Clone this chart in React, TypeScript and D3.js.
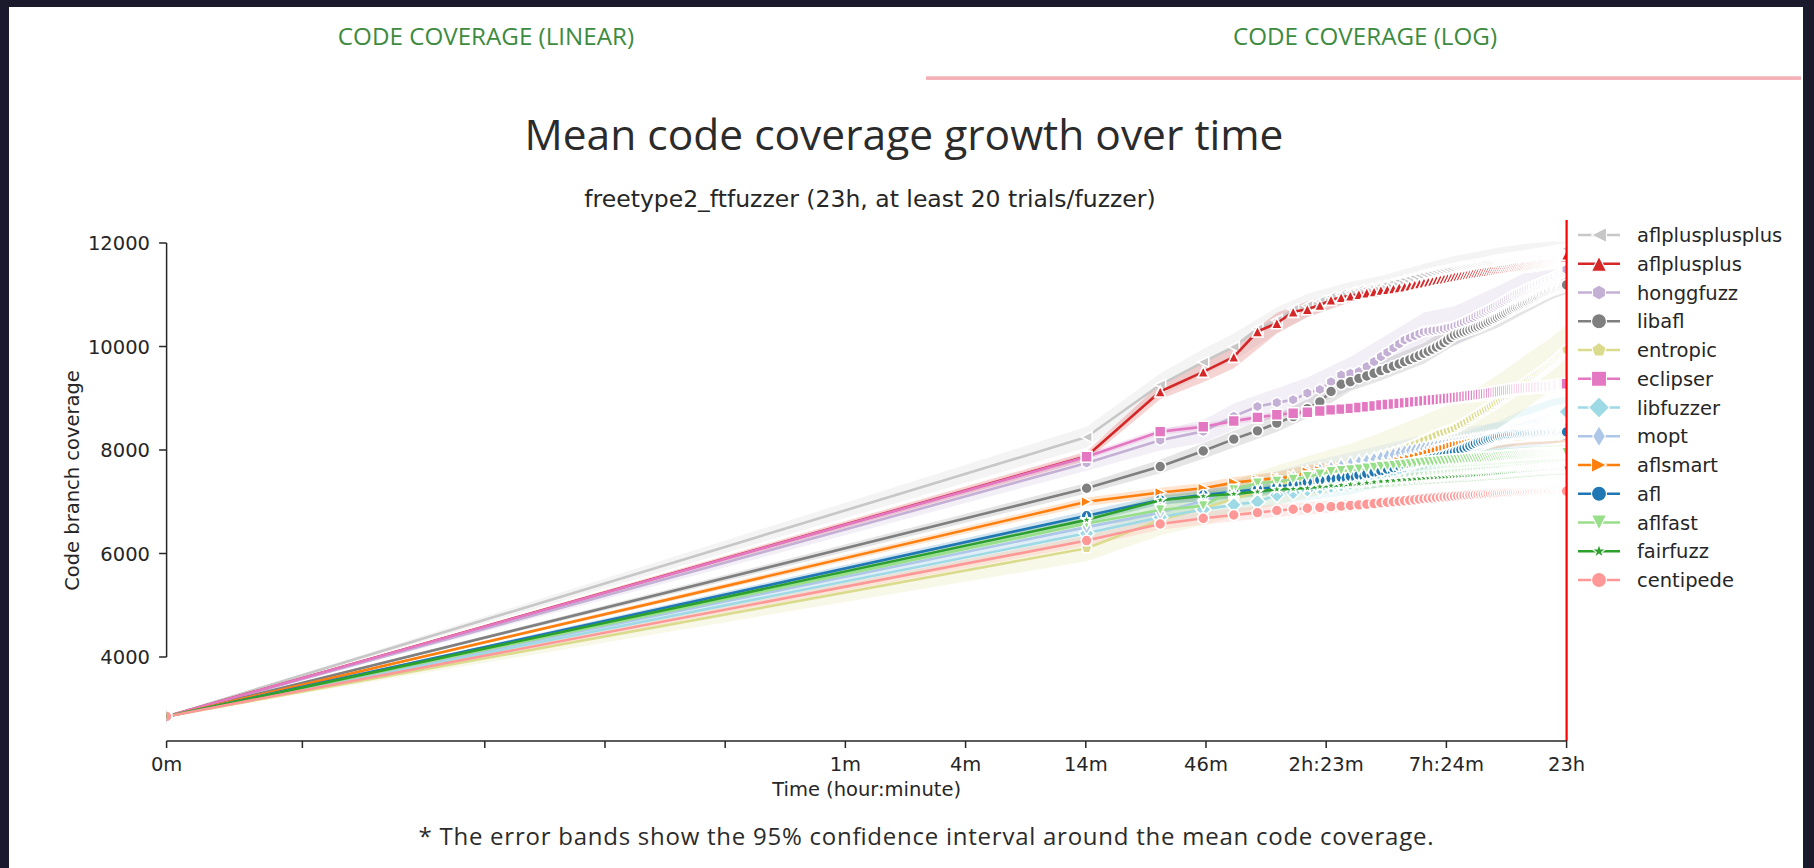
import React from 'react';
import * as d3 from 'd3';

const W = 1814;
const H = 868;

const FUZZERS = ['aflplusplusplus', 'aflplusplus', 'honggfuzz', 'libafl', 'entropic', 'eclipser', 'libfuzzer', 'mopt', 'aflsmart', 'afl', 'aflfast', 'fairfuzz', 'centipede'];
const COLORS = ['#c7c7c7', '#d62728', '#c5b0d5', '#7f7f7f', '#dbdb8d', '#e377c2', '#9edae5', '#aec7e8', '#ff7f0e', '#1f77b4', '#98df8a', '#2ca02c', '#ff9896'];
const MARKERS = ['<', '^', 'h', 'o', 'p', 's', 'D', 'd', '>', 'o', 'v', '*', 'o'];

const START_COVERAGE = 2850;
const SNAPSHOT_SECONDS = 900;
const END_SECONDS = 82800;

// mean coverage at each 15-minute snapshot (900s .. 82800s)
const aflplusplusplusCov = [8250, 9260, 9700, 9990, 10340, 10510, 10720, 10790, 10880, 10960, 11010, 11050, 11090, 11120, 11150, 11180,
  11210, 11240, 11270, 11300, 11325, 11350, 11375, 11400, 11420, 11440, 11455, 11470, 11485, 11500, 11515, 11530,
  11540, 11550, 11560, 11570, 11580, 11590, 11600, 11610, 11620, 11630, 11640, 11650, 11660, 11670, 11675, 11680,
  11690, 11695, 11700, 11710, 11715, 11720, 11725, 11730, 11735, 11740, 11745, 11750, 11755, 11760, 11765, 11770,
  11775, 11780, 11785, 11790, 11795, 11800, 11805, 11810, 11815, 11820, 11825, 11830, 11835, 11840, 11845, 11850,
  11855, 11860, 11862, 11865, 11868, 11870, 11872, 11875, 11878, 11880, 11885, 11890];
const aflplusplusCov = [7880, 9130, 9510, 9800, 10290, 10450, 10670, 10720, 10800, 10900, 10950, 10980, 11010, 11040, 11060, 11090,
  11105, 11120, 11140, 11156, 11175, 11195, 11215, 11233, 11250, 11265, 11282, 11298, 11310, 11323, 11336, 11349,
  11360, 11370, 11380, 11390, 11400, 11408, 11417, 11426, 11433, 11440, 11447, 11454, 11460, 11466, 11472, 11478,
  11485, 11491, 11497, 11503, 11510, 11517, 11523, 11530, 11533, 11537, 11540, 11543, 11546, 11549, 11552, 11556,
  11561, 11566, 11570, 11575, 11580, 11584, 11589, 11594, 11597, 11600, 11603, 11606, 11610, 11613, 11616, 11620,
  11625, 11630, 11635, 11642, 11650, 11658, 11666, 11675, 11690, 11710, 11735, 11770];
const honggfuzzCov = [7750, 8190, 8360, 8650, 8840, 8915, 8970, 9100, 9170, 9320, 9450, 9482, 9514, 9611, 9707, 9804,
  9890, 9970, 10050, 10126, 10170, 10210, 10250, 10286, 10300, 10312, 10322, 10333, 10348, 10364, 10380, 10396,
  10420, 10446, 10472, 10500, 10527, 10554, 10582, 10609, 10633, 10657, 10681, 10705, 10730, 10754, 10778, 10802,
  10826, 10850, 10874, 10898, 10922, 10946, 10970, 10995, 11010, 11026, 11042, 11058, 11075, 11091, 11108, 11124,
  11138, 11151, 11165, 11178, 11192, 11205, 11219, 11233, 11244, 11254, 11265, 11276, 11286, 11297, 11307, 11318,
  11330, 11343, 11356, 11370, 11383, 11396, 11410, 11424, 11438, 11452, 11470, 11490];
const libaflCov = [7260, 7680, 7980, 8210, 8370, 8520, 8645, 8800, 8930, 9130, 9270, 9320, 9385, 9430, 9482, 9533,
  9576, 9620, 9663, 9707, 9747, 9788, 9828, 9869, 9909, 9950, 9990, 10030, 10078, 10126, 10175, 10223,
  10243, 10263, 10283, 10303, 10323, 10343, 10363, 10383, 10405, 10428, 10451, 10474, 10496, 10519, 10542, 10564,
  10586, 10608, 10630, 10651, 10673, 10695, 10716, 10738, 10754, 10770, 10786, 10802, 10818, 10834, 10850, 10866,
  10882, 10898, 10914, 10930, 10946, 10962, 10978, 10995, 11007, 11019, 11031, 11043, 11056, 11068, 11080, 11092,
  11100, 11108, 11116, 11124, 11132, 11140, 11148, 11156, 11164, 11172, 11180, 11190];
const entropicCov = [6100, 6650, 6870, 7060, 7190, 7320, 7390, 7480, 7560, 7610, 7650, 7690, 7740, 7790, 7840, 7890,
  7925, 7960, 7995, 8030, 8070, 8110, 8150, 8190, 8225, 8260, 8295, 8330, 8352, 8375, 8397, 8420,
  8455, 8490, 8525, 8560, 8595, 8630, 8665, 8700, 8729, 8758, 8786, 8815, 8844, 8872, 8901, 8930,
  8957, 8985, 9012, 9040, 9067, 9095, 9122, 9150, 9175, 9200, 9225, 9250, 9275, 9300, 9325, 9350,
  9371, 9392, 9414, 9435, 9456, 9477, 9499, 9520, 9540, 9560, 9580, 9600, 9620, 9640, 9660, 9680,
  9702, 9724, 9746, 9768, 9790, 9812, 9834, 9856, 9878, 9900, 9920, 9940];
const eclipserCov = [7870, 8355, 8450, 8560, 8630, 8680, 8710, 8730, 8755, 8775, 8790, 8805, 8820, 8835, 8850, 8870,
  8880, 8890, 8900, 8910, 8920, 8930, 8940, 8950, 8958, 8965, 8972, 8980, 8987, 8994, 9002, 9010,
  9017, 9024, 9031, 9038, 9045, 9052, 9059, 9066, 9072, 9078, 9084, 9090, 9100, 9107, 9114, 9120,
  9127, 9134, 9141, 9148, 9155, 9162, 9169, 9176, 9180, 9184, 9188, 9190, 9193, 9195, 9198, 9200,
  9202, 9205, 9207, 9210, 9212, 9215, 9217, 9220, 9221, 9222, 9224, 9225, 9226, 9227, 9229, 9230,
  9234, 9238, 9242, 9246, 9250, 9254, 9258, 9262, 9266, 9270, 9275, 9280];
const libfuzzerCov = [6390, 6700, 6850, 6940, 7000, 7130, 7180, 7230, 7270, 7300, 7330, 7360, 7400, 7440, 7480, 7520,
  7560, 7600, 7640, 7680, 7720, 7760, 7800, 7840, 7862, 7885, 7907, 7930, 7948, 7965, 7983, 8000,
  8015, 8030, 8045, 8060, 8075, 8090, 8105, 8120, 8136, 8152, 8168, 8185, 8201, 8217, 8233, 8250,
  8275, 8300, 8325, 8350, 8375, 8400, 8420, 8440, 8450, 8460, 8470, 8480, 8490, 8500, 8510, 8520,
  8530, 8540, 8550, 8560, 8570, 8580, 8590, 8600, 8610, 8620, 8630, 8640, 8650, 8660, 8670, 8680,
  8685, 8690, 8695, 8700, 8705, 8710, 8715, 8720, 8725, 8730, 8735, 8740];
const moptCov = [6510, 6790, 7020, 7250, 7330, 7400, 7470, 7560, 7610, 7650, 7690, 7730, 7760, 7790, 7820, 7850,
  7880, 7910, 7940, 7970, 7985, 8000, 8015, 8030, 8042, 8053, 8065, 8076, 8087, 8098, 8109, 8120,
  8129, 8138, 8147, 8156, 8164, 8173, 8182, 8190, 8197, 8205, 8212, 8220, 8228, 8235, 8243, 8250,
  8255, 8260, 8265, 8270, 8275, 8280, 8285, 8290, 8295, 8300, 8305, 8310, 8315, 8320, 8325, 8330,
  8333, 8336, 8339, 8342, 8345, 8348, 8351, 8355, 8358, 8361, 8364, 8367, 8370, 8373, 8376, 8380,
  8383, 8386, 8389, 8392, 8395, 8398, 8401, 8404, 8407, 8410, 8415, 8420];
const aflsmartCov = [7000, 7180, 7260, 7370, 7420, 7455, 7485, 7580, 7610, 7630, 7645, 7660, 7675, 7690, 7705, 7720,
  7740, 7760, 7780, 7800, 7825, 7850, 7875, 7900, 7925, 7950, 7975, 8000, 8020, 8040, 8060, 8080,
  8089, 8098, 8107, 8116, 8124, 8133, 8142, 8150, 8156, 8163, 8169, 8175, 8181, 8188, 8194, 8200,
  8206, 8212, 8218, 8225, 8231, 8237, 8243, 8250, 8252, 8254, 8256, 8258, 8260, 8262, 8264, 8266,
  8268, 8270, 8272, 8274, 8276, 8278, 8280, 8282, 8283, 8284, 8285, 8286, 8287, 8288, 8289, 8290,
  8292, 8294, 8296, 8298, 8300, 8302, 8304, 8305, 8306, 8307, 8308, 8310];
const aflCov = [6730, 7035, 7130, 7190, 7240, 7290, 7330, 7380, 7420, 7450, 7470, 7490, 7515, 7540, 7570, 7600,
  7630, 7660, 7690, 7720, 7740, 7760, 7780, 7800, 7818, 7835, 7852, 7870, 7892, 7915, 7937, 7960,
  7984, 8008, 8032, 8056, 8080, 8104, 8128, 8150, 8165, 8180, 8195, 8210, 8222, 8235, 8248, 8260,
  8266, 8272, 8278, 8284, 8290, 8296, 8302, 8308, 8309, 8310, 8311, 8312, 8313, 8314, 8315, 8316,
  8318, 8320, 8322, 8324, 8326, 8328, 8330, 8332, 8333, 8334, 8335, 8336, 8337, 8338, 8339, 8340,
  8341, 8342, 8343, 8344, 8345, 8346, 8346, 8347, 8347, 8348, 8349, 8350];
const aflfastCov = [6580, 6840, 6920, 7230, 7357, 7390, 7430, 7485, 7530, 7580, 7600, 7614, 7630, 7647, 7662, 7678,
  7688, 7699, 7709, 7720, 7730, 7740, 7750, 7760, 7767, 7773, 7780, 7786, 7792, 7798, 7804, 7810,
  7814, 7818, 7822, 7826, 7830, 7833, 7837, 7840, 7844, 7848, 7852, 7855, 7859, 7863, 7866, 7870,
  7873, 7876, 7879, 7882, 7885, 7888, 7891, 7894, 7896, 7898, 7900, 7902, 7904, 7906, 7908, 7910,
  7912, 7914, 7916, 7918, 7920, 7922, 7924, 7926, 7928, 7929, 7930, 7931, 7932, 7933, 7934, 7935,
  7936, 7937, 7938, 7939, 7940, 7941, 7942, 7943, 7944, 7946, 7948, 7950];
const fairfuzzCov = [6650, 7030, 7110, 7150, 7195, 7240, 7250, 7265, 7290, 7310, 7320, 7335, 7350, 7365, 7380, 7395,
  7403, 7411, 7420, 7430, 7437, 7445, 7452, 7460, 7465, 7470, 7475, 7480, 7485, 7490, 7495, 7500,
  7504, 7508, 7512, 7515, 7519, 7522, 7526, 7530, 7534, 7538, 7542, 7545, 7549, 7552, 7556, 7560,
  7565, 7570, 7574, 7578, 7582, 7586, 7590, 7594, 7596, 7598, 7600, 7602, 7604, 7606, 7608, 7610,
  7613, 7616, 7619, 7622, 7625, 7628, 7631, 7634, 7636, 7638, 7640, 7642, 7644, 7646, 7648, 7650,
  7651, 7652, 7653, 7654, 7655, 7656, 7657, 7658, 7659, 7660, 7660, 7660];
const centipedeCov = [6250, 6570, 6680, 6745, 6790, 6830, 6855, 6875, 6890, 6905, 6915, 6928, 6940, 6952, 6965, 6980,
  6990, 7000, 7010, 7020, 7030, 7040, 7050, 7060, 7067, 7073, 7080, 7086, 7092, 7098, 7104, 7110,
  7114, 7118, 7122, 7126, 7130, 7133, 7137, 7140, 7143, 7146, 7149, 7152, 7155, 7158, 7161, 7165,
  7167, 7169, 7171, 7173, 7175, 7177, 7179, 7181, 7182, 7183, 7184, 7185, 7186, 7187, 7188, 7190,
  7191, 7192, 7193, 7194, 7195, 7196, 7197, 7198, 7199, 7200, 7200, 7201, 7202, 7203, 7204, 7205,
  7205, 7206, 7206, 7207, 7207, 7208, 7208, 7208, 7207, 7206, 7205, 7205];

// 95% CI half-widths at selected snapshot numbers
const CI_SNAPSHOTS = [1, 2, 3, 4, 6, 8, 12, 16, 24, 32, 48, 64, 80, 92];
const aflplusplusplusCI = [200, 220, 250, 260, 250, 230, 200, 180, 200, 220, 230, 220, 180, 130];
const aflplusplusCI = [90, 150, 200, 220, 200, 150, 120, 100, 90, 80, 80, 80, 80, 80];
const honggfuzzCI = [150, 200, 220, 250, 280, 300, 320, 350, 370, 380, 360, 330, 300, 250];
const libaflCI = [100, 130, 150, 160, 170, 180, 180, 190, 200, 200, 200, 190, 180, 170];
const entropicCI = [250, 300, 320, 350, 380, 400, 430, 450, 480, 500, 520, 520, 500, 480];
const eclipserCI = [60, 60, 60, 60, 60, 60, 60, 60, 60, 60, 60, 60, 60, 60];
const libfuzzerCI = [120, 130, 150, 160, 180, 200, 220, 230, 260, 280, 300, 300, 300, 300];
const moptCI = [120, 150, 170, 180, 190, 200, 220, 240, 260, 280, 280, 280, 260, 240];
const aflsmartCI = [80, 90, 100, 110, 120, 130, 140, 150, 160, 160, 160, 160, 160, 160];
const aflCI = [90, 100, 110, 110, 120, 130, 140, 150, 160, 160, 160, 150, 150, 150];
const aflfastCI = [90, 100, 110, 110, 120, 130, 130, 140, 140, 150, 150, 150, 150, 150];
const fairfuzzCI = [70, 80, 90, 90, 100, 110, 110, 120, 120, 130, 130, 130, 130, 130];
const centipedeCI = [100, 110, 120, 120, 120, 120, 110, 110, 100, 100, 100, 100, 100, 100];

const COVERAGE = [aflplusplusplusCov, aflplusplusCov, honggfuzzCov, libaflCov, entropicCov, eclipserCov, libfuzzerCov, moptCov, aflsmartCov, aflCov, aflfastCov, fairfuzzCov, centipedeCov];
const CIS = [aflplusplusplusCI, aflplusplusCI, honggfuzzCI, libaflCI, entropicCI, eclipserCI, libfuzzerCI, moptCI, aflsmartCI, aflCI, aflfastCI, fairfuzzCI, centipedeCI];

const X_TICK_SECONDS = [0, 1, 3.1031, 9.6293, 29.88, 92.72, 287.75, 892.9, 2770.8, 8598, 26683, 82800];
const X_TICK_LABELS = ['0m', '', '', '', '', '1m', '4m', '14m', '46m', '2h:23m', '7h:24m', '23h'];
const Y_TICKS = [4000, 6000, 8000, 10000, 12000];

// matplotlib-style symlog (base 10, linthresh 2, linscale 1)
const LINTHRESH = 2;
const LINSCALE_ADJ = 1 / (1 - 1 / 10);
function symlog(t: number): number {
  return t <= LINTHRESH ? t * LINSCALE_ADJ : LINTHRESH * (LINSCALE_ADJ + Math.log10(t / LINTHRESH));
}

function markerPath(shape: string, ms: number): string {
  const r = ms / 2;
  const poly = (pts: [number, number][]) => 'M' + pts.map(p => p[0].toFixed(2) + ',' + p[1].toFixed(2)).join('L') + 'Z';
  const regular = (n: number, rad: number) =>
    d3.range(n).map(i => {
      const a = -Math.PI / 2 + (i * 2 * Math.PI) / n;
      return [rad * Math.cos(a), rad * Math.sin(a)] as [number, number];
    });
  switch (shape) {
    case 'o':
      return `M${r},0A${r},${r} 0 1,1 ${-r},0A${r},${r} 0 1,1 ${r},0Z`;
    case 's':
      return poly([[-r, -r], [r, -r], [r, r], [-r, r]]);
    case '^':
      return poly([[0, -r], [r, r], [-r, r]]);
    case 'v':
      return poly([[0, r], [r, -r], [-r, -r]]);
    case '<':
      return poly([[-r, 0], [r, -r], [r, r]]);
    case '>':
      return poly([[r, 0], [-r, -r], [-r, r]]);
    case 'D': {
      const h = ms * Math.SQRT1_2;
      return poly([[0, -h], [h, 0], [0, h], [-h, 0]]);
    }
    case 'd': {
      const h = ms * Math.SQRT1_2;
      return poly([[0, -h], [0.6 * h, 0], [0, h], [-0.6 * h, 0]]);
    }
    case 'h':
      return poly(regular(6, r));
    case 'p':
      return poly(regular(5, r));
    case '*': {
      const pts: [number, number][] = d3.range(10).map(i => {
        const rad = i % 2 ? 0.381966 * r : r;
        const a = -Math.PI / 2 + (i * Math.PI) / 5;
        return [rad * Math.cos(a), rad * Math.sin(a)];
      });
      return poly(pts);
    }
    default:
      return poly([[-r, -r], [r, -r], [r, r], [-r, r]]);
  }
}

const AX_LEFT = 166.6;
const AX_RIGHT = 1566.6;
const AX_TOP = 220;
const AX_BOTTOM = 741;
const TEXT = '#262626';
const DV = 'DejaVu Sans, sans-serif';
const OS = 'Open Sans, Noto Sans, sans-serif';

export default function App() {
  const xs = d3.scaleLinear().domain([symlog(0), symlog(END_SECONDS)]).range([AX_LEFT, AX_RIGHT]);
  const x = (t: number) => xs(symlog(t));
  const y = d3.scaleLinear().domain([4000, 12000]).range([657, 243]);

  const line = d3.line<[number, number]>().x(d => x(d[0])).y(d => y(d[1]));
  const area = d3.area<[number, number, number]>().x(d => x(d[0])).y0(d => y(d[1])).y1(d => y(d[2]));

  const series = FUZZERS.map((name, i) => {
    const cov = COVERAGE[i];
    const pts: [number, number][] = [[0, START_COVERAGE], ...cov.map((v, k) => [(k + 1) * SNAPSHOT_SECONDS, v] as [number, number])];
    const band: [number, number, number][] = [[0, START_COVERAGE, START_COVERAGE], ...CI_SNAPSHOTS.map((k, j) => {
      const m = cov[k - 1];
      return [k * SNAPSHOT_SECONDS, m - CIS[i][j], m + CIS[i][j]] as [number, number, number];
    })];
    return { name, color: COLORS[i], marker: MARKERS[i], pts, band };
  });

  const legendY0 = 235;
  const legendStep = 28.75;

  return (
    <svg width={W} height={H} style={{ position: 'absolute', left: 0, top: 0, display: 'block' }}>
      <rect x={0} y={0} width={W} height={H} fill="#1b1a2c" />
      <rect x={9} y={7} width={1794} height={H - 7} fill="#ffffff" />

      {/* tabs */}
      <text x={486} y={45} textAnchor="middle" fontFamily={OS} fontSize={24.2} fill="#3d8b40">CODE COVERAGE (LINEAR)</text>
      <text x={1365} y={45} textAnchor="middle" fontFamily={OS} fontSize={24.2} fill="#3d8b40">CODE COVERAGE (LOG)</text>
      <rect x={926} y={76.3} width={875} height={3.6} fill="#f4b0b4" />

      {/* titles */}
      <text x={904} y={150} textAnchor="middle" fontFamily={OS} fontSize={42.5} fill="#2b2b2b">Mean code coverage growth over time</text>
      <text x={870} y={207} textAnchor="middle" fontFamily={DV} fontSize={23.5} fill={TEXT}>freetype2_ftfuzzer (23h, at least 20 trials/fuzzer)</text>

      <defs>
        <clipPath id="axclip">
          <rect x={AX_LEFT} y={AX_TOP} width={AX_RIGHT - AX_LEFT} height={AX_BOTTOM - AX_TOP} />
        </clipPath>
      </defs>

      <g clipPath="url(#axclip)">
        {series.map(s => (
          <path key={'b' + s.name} d={area(s.band) || ''} fill={s.color} fillOpacity={0.2} stroke="none" />
        ))}
        {series.map(s => (
          <g key={'l' + s.name}>
            <path d={line(s.pts) || ''} fill="none" stroke={s.color} strokeWidth={2.6} strokeLinejoin="round" />
            {s.pts.map((p, k) => (
              <path key={k} d={markerPath(s.marker, 11)} transform={`translate(${x(p[0]).toFixed(2)},${y(p[1]).toFixed(2)})`} fill={s.color} stroke="#ffffff" strokeWidth={1.6} />
            ))}
          </g>
        ))}
      </g>

      {/* end-of-experiment marker line */}
      <line x1={AX_RIGHT} x2={AX_RIGHT} y1={AX_TOP} y2={AX_BOTTOM} stroke="#ff0000" strokeWidth={2.2} />

      {/* axes (trimmed spines) */}
      <line x1={AX_LEFT} x2={AX_LEFT} y1={y(12000)} y2={y(4000)} stroke={TEXT} strokeWidth={1.5} />
      {Y_TICKS.map(v => (
        <g key={'yt' + v}>
          <line x1={AX_LEFT - 7.5} x2={AX_LEFT} y1={y(v)} y2={y(v)} stroke={TEXT} strokeWidth={1.5} />
          <text x={150} y={y(v)} dy="0.36em" textAnchor="end" fontFamily={DV} fontSize={19.5} fill={TEXT}>{v}</text>
        </g>
      ))}
      <line x1={AX_LEFT} x2={AX_RIGHT} y1={AX_BOTTOM} y2={AX_BOTTOM} stroke={TEXT} strokeWidth={1.5} />
      {X_TICK_SECONDS.map((t, i) => (
        <g key={'xt' + i}>
          <line x1={x(t)} x2={x(t)} y1={AX_BOTTOM} y2={AX_BOTTOM + 7} stroke={TEXT} strokeWidth={1.5} />
          {X_TICK_LABELS[i] && (
            <text x={x(t)} y={770.6} textAnchor="middle" fontFamily={DV} fontSize={19.5} fill={TEXT}>{X_TICK_LABELS[i]}</text>
          )}
        </g>
      ))}
      <text x={(AX_LEFT + AX_RIGHT) / 2} y={796} textAnchor="middle" fontFamily={DV} fontSize={19.5} fill={TEXT}>Time (hour:minute)</text>
      <text transform={`translate(79,${(AX_TOP + AX_BOTTOM) / 2}) rotate(-90)`} textAnchor="middle" fontFamily={DV} fontSize={19.5} fill={TEXT}>Code branch coverage</text>

      {/* legend */}
      {series.map((s, i) => {
        const ly = legendY0 + i * legendStep;
        return (
          <g key={'lg' + s.name}>
            <line x1={1578} x2={1620} y1={ly} y2={ly} stroke={s.color} strokeWidth={2.7} />
            <path d={markerPath(s.marker, 15)} transform={`translate(1599,${ly})`} fill={s.color} stroke="#ffffff" strokeWidth={1.1} />
            <text x={1637} y={ly} dy="0.36em" fontFamily={DV} fontSize={19.5} fill={TEXT}>{s.name}</text>
          </g>
        );
      })}

      <text x={926} y={845} textAnchor="middle" fontFamily={OS} fontSize={24} textLength={1015} lengthAdjust="spacing" fill="#2b2b2b">* The error bands show the 95% confidence interval around the mean code coverage.</text>
    </svg>
  );
}
